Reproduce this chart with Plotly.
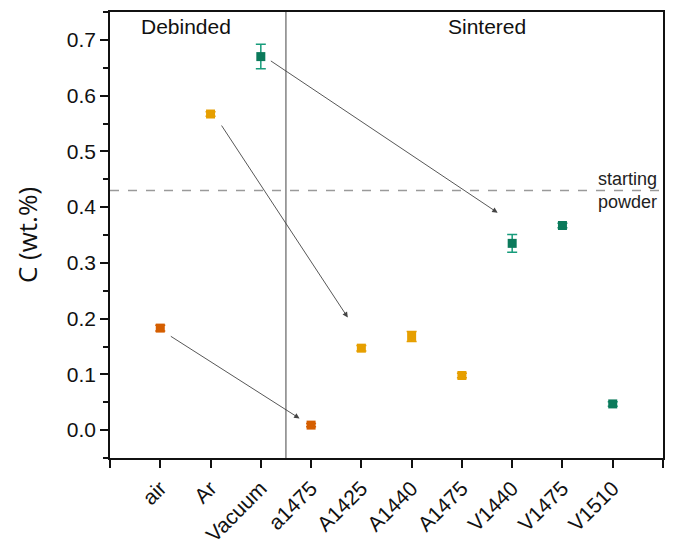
import plotly.graph_objects as go

# Carbon content of debinded and sintered samples
categories = ["air", "Ar", "Vacuum", "a1475", "A1425", "A1440", "A1475", "V1440", "V1475", "V1510"]
carbon = [0.183, 0.567, 0.670, 0.009, 0.147, 0.168, 0.098, 0.335, 0.367, 0.047]
carbon_err = [0.005, 0.004, 0.022, 0.003, 0.005, 0.009, 0.004, 0.016, 0.004, 0.004]
group = ["air", "Ar", "vac", "air", "Ar", "Ar", "Ar", "vac", "vac", "vac"]

starting_powder = 0.43

# Arrows linking each debinding atmosphere to its sintered samples
arrow_from_x = [0.18, 1.20, 2.17]
arrow_from_y = [0.170, 0.549, 0.664]
arrow_to_x = [2.77, 3.73, 6.71]
arrow_to_y = [0.021, 0.202, 0.390]

marker_colors = {"air": "#D55E00", "Ar": "#E69F00", "vac": "#0B7A5B"}
error_colors = {"air": "#D55E00", "Ar": "#E69F00", "vac": "#179C7B"}

FONT = "Liberation Sans, Arial, sans-serif"

fig = go.Figure()

for g in ["air", "Ar", "vac"]:
    idx = [i for i, gg in enumerate(group) if gg == g]
    fig.add_trace(go.Scatter(
        x=idx,
        y=[carbon[i] for i in idx],
        mode="markers",
        marker=dict(symbol="square", size=9, color=marker_colors[g],
                    line=dict(width=0)),
        error_y=dict(type="data", array=[carbon_err[i] for i in idx],
                     color=error_colors[g], thickness=1.5, width=5),
        showlegend=False,
    ))

# Starting powder level
fig.add_hline(y=starting_powder, line=dict(color="#9a9a9a", width=1.5, dash="dash"))

# Divider between debinded and sintered
fig.add_shape(type="line", x0=2.5, x1=2.5, y0=0, y1=1, xref="x", yref="paper",
              line=dict(color="#444444", width=1))

for fx, fy, tx, ty in zip(arrow_from_x, arrow_from_y, arrow_to_x, arrow_to_y):
    fig.add_annotation(x=tx, y=ty, ax=fx, ay=fy, xref="x", yref="y",
                       axref="x", ayref="y", text="", showarrow=True,
                       arrowhead=2, arrowsize=1.2, arrowwidth=0.9,
                       arrowcolor="#444444")

fig.add_annotation(x=0.52, y=0.748, xref="x", yref="y", text="Debinded",
                   showarrow=False, yanchor="top",
                   font=dict(family=FONT, size=21, color="#111111"))
fig.add_annotation(x=6.5, y=0.748, xref="x", yref="y", text="Sintered",
                   showarrow=False, yanchor="top",
                   font=dict(family=FONT, size=21, color="#111111"))
fig.add_annotation(x=9.92, y=starting_powder, xref="x", yref="y",
                   text="starting<br>powder", showarrow=False,
                   xanchor="right", yanchor="middle", align="right",
                   font=dict(family=FONT, size=18, color="#222222"))

tick_vals = [-1] + list(range(len(categories))) + [10]
tick_text = [""] + categories + [""]

fig.update_xaxes(
    range=[-1, 10], tickvals=tick_vals, ticktext=tick_text, tickangle=-45,
    ticks="outside", ticklen=8, tickwidth=1.5, tickcolor="#111111",
    showline=True, linecolor="#111111", linewidth=1.5, mirror=True,
    showgrid=False, zeroline=False, automargin=False,
    tickfont=dict(family=FONT, size=21, color="#111111"),
)
fig.update_yaxes(
    range=[-0.05, 0.75], tickvals=[0, 0.1, 0.2, 0.3, 0.4, 0.5, 0.6, 0.7],
    tickformat=".1f",
    ticks="outside", ticklen=8, tickwidth=1.5, tickcolor="#111111",
    minor=dict(tickvals=[-0.05, 0.05, 0.15, 0.25, 0.35, 0.45, 0.55, 0.65, 0.75],
               ticks="outside", ticklen=5, tickwidth=1.5, tickcolor="#111111"),
    showline=True, linecolor="#111111", linewidth=1.5, mirror=True,
    showgrid=False, zeroline=False, automargin=False,
    tickfont=dict(family=FONT, size=21, color="#111111"),
    title=dict(text="C (wt.%)", standoff=22,
               font=dict(family="Open Sans, sans-serif", size=26, color="#111111")),
)

fig.update_layout(
    width=673, height=545,
    margin=dict(l=110, r=10, t=12, b=87),
    plot_bgcolor="white", paper_bgcolor="white",
)

fig.write_html("out.html")
